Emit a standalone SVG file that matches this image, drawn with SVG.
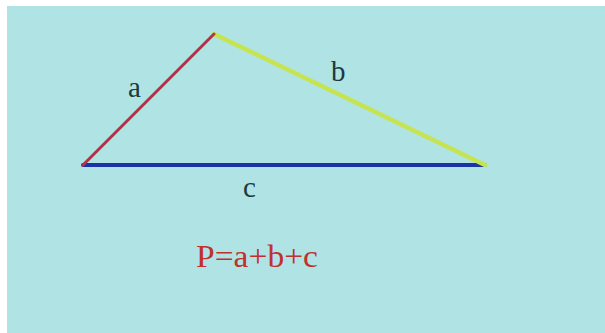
<svg xmlns="http://www.w3.org/2000/svg" width="605" height="333" viewBox="0 0 605 333">
<style>
.lbl{font-family:"Liberation Serif",serif;font-size:29px;fill:#1c3a3c}
.side{fill:none;stroke-linecap:round}
.formula{font-family:"Liberation Serif",serif;font-size:31px;fill:#c0302e}
</style>
<rect x="0" y="0" width="605" height="333" fill="#ffffff"/>
<rect x="7" y="6" width="598" height="327" fill="#b0e4e4"/>
<g id="connectors">
<line id="side-c" class="side" x1="83" y1="165" x2="485" y2="165" stroke="#1a34a8" stroke-width="4"/>
<line id="side-b" class="side" x1="214" y1="34" x2="485" y2="165" stroke="#c6e452" stroke-width="4.5"/>
<line id="side-a" class="side" x1="83" y1="165" x2="214" y2="34" stroke="#b23444" stroke-width="3"/>
</g>
<g id="label-a"><text class="lbl" x="128" y="97">a</text></g>
<g id="label-b"><text class="lbl" x="331" y="81">b</text></g>
<g id="label-c"><text class="lbl" x="243" y="197">c</text></g>
<g id="formula"><text class="formula" x="196" y="267" textLength="122" lengthAdjust="spacingAndGlyphs">P=a+b+c</text></g>
</svg>
